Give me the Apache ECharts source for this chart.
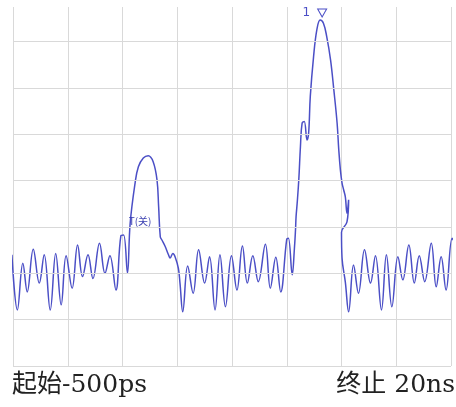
<!DOCTYPE html>
<html>
<head>
<meta charset="utf-8">
<script src="https://cdn.jsdelivr.net/npm/echarts@6/dist/echarts.min.js"></script>
<style>
html,body{margin:0;padding:0;background:#fff;}
#c{width:456px;height:407px;}
</style>
</head>
<body>
<div id="c"></div>
<script>
// Trace: x in horizontal divisions (0 = start -500ps, 8 = stop 20ns), y in vertical divisions
const traceX = [-0.02,0.08,0.18,0.26,0.37,0.48,0.57,0.68,0.78,0.88,0.97,1.08,1.18,1.27,1.37,1.46,1.58,1.68,1.77,1.88,1.97,2.02,2.09,2.14,2.23,2.29,2.38,2.47,2.56,2.63,2.66,2.69,2.72,2.78,2.84,2.87,2.92,2.96,3.02,3.05,3.10,3.19,3.29,3.39,3.50,3.59,3.69,3.78,3.88,3.99,4.09,4.19,4.28,4.38,4.48,4.61,4.70,4.80,4.89,5.00,5.03,5.10,5.14,5.16,5.17,5.19,5.22,5.25,5.28,5.32,5.37,5.40,5.43,5.49,5.55,5.61,5.67,5.73,5.80,5.86,5.92,5.95,5.98,6.01,6.04,6.07,6.10,6.13,6.10,6.00,6.01,6.07,6.13,6.22,6.31,6.42,6.53,6.62,6.73,6.82,6.92,7.03,7.12,7.23,7.33,7.42,7.52,7.64,7.73,7.82,7.91,8.02,8.06];
const traceY = [2.40,1.21,2.22,1.60,2.52,1.79,2.40,1.21,2.43,1.32,2.38,1.68,2.61,1.93,2.40,1.89,2.65,2.00,2.38,1.64,2.81,2.83,2.01,3.08,3.95,4.30,4.49,4.54,4.41,4.02,3.44,2.79,2.72,2.58,2.40,2.33,2.43,2.36,2.11,1.79,1.17,2.16,1.57,2.51,1.79,2.36,1.21,2.40,1.28,2.38,1.64,2.59,1.79,2.38,1.82,2.63,1.68,2.35,1.60,2.74,2.76,1.97,2.54,2.94,3.22,3.51,4.02,4.74,5.24,5.28,4.88,5.03,5.82,6.68,7.26,7.47,7.40,7.11,6.61,5.96,5.24,4.67,4.23,3.95,3.80,3.65,3.30,3.59,3.11,2.89,2.33,1.81,1.17,2.18,1.57,2.51,1.79,2.38,1.21,2.40,1.28,2.36,1.86,2.61,1.79,2.38,1.82,2.65,1.71,2.36,1.64,2.76,2.68];
const xDivisions = [0,1,2,3,4,5,6,7,8];
const yDivisions = [0,1,2,3,4,5,6,7];
const marker1 = {x: 5.61, y: 7.47, label: '1'};
const markerT = {x: 2.32, y: 3.13, label: 'T(关)'};
const startLabel = '起始-500ps';
const stopLabel = '终止 20ns';

const traceColor = '#4b4fc6';
const gridColor = '#d9d9d9';

const chart = echarts.init(document.getElementById('c'), null, {renderer: 'canvas'});
const data = traceX.map((x, i) => [x, traceY[i]]);

chart.setOption({
  animation: false,
  backgroundColor: '#fff',
  grid: {left: 13, right: 5, top: 7, bottom: 41},
  xAxis: {
    type: 'value', min: xDivisions[0], max: xDivisions[xDivisions.length - 1], interval: 1,
    axisLine: {show: false}, axisTick: {show: false}, axisLabel: {show: false},
    splitLine: {show: true, lineStyle: {color: gridColor, width: 1}}
  },
  yAxis: {
    type: 'value', min: 0, max: 7.75,
    axisLine: {show: false}, axisTick: {show: false}, axisLabel: {show: false},
    splitLine: {show: false}
  },
  series: [
    {
      type: 'line', data: [[0, 0]], showSymbol: false, silent: true, z: 1,
      lineStyle: {opacity: 0},
      markLine: {
        silent: true, symbol: ['none', 'none'], label: {show: false},
        lineStyle: {color: gridColor, type: 'solid', width: 1},
        data: yDivisions.map(v => ({yAxis: v}))
      }
    },
    {
      type: 'line', data: data, showSymbol: false, smooth: 0.4, clip: false, z: 3,
      lineStyle: {color: traceColor, width: 1.5},
      markPoint: {
        silent: true,
        data: [
          {
            coord: [marker1.x, marker1.y], symbol: 'triangle', symbolRotate: 180,
            symbolSize: [9, 8], symbolOffset: [2, -7],
            itemStyle: {color: '#fff', borderColor: traceColor, borderWidth: 1},
            label: {show: true, position: 'left', distance: 7, formatter: marker1.label,
                    color: traceColor, fontSize: 12, fontFamily: 'DejaVu Sans'}
          },
          {
            coord: [markerT.x, markerT.y], symbol: 'rect', symbolSize: 0,
            label: {show: true, position: 'inside', formatter: markerT.label,
                    color: '#3a3fb0', fontSize: 10, fontFamily: '"Noto Sans CJK SC"'}
          }
        ]
      }
    }
  ],
  graphic: [
    {type: 'text', left: 12, top: 373,
     style: {text: startLabel, fontSize: 25, fill: '#222',
             fontFamily: '"DejaVu Serif", "Noto Sans CJK SC", serif'}},
    {type: 'text', right: 1, top: 373,
     style: {text: stopLabel, fontSize: 25, fill: '#222',
             fontFamily: '"DejaVu Serif", "Noto Sans CJK SC", serif'}}
  ]
});
</script>
</body>
</html>
